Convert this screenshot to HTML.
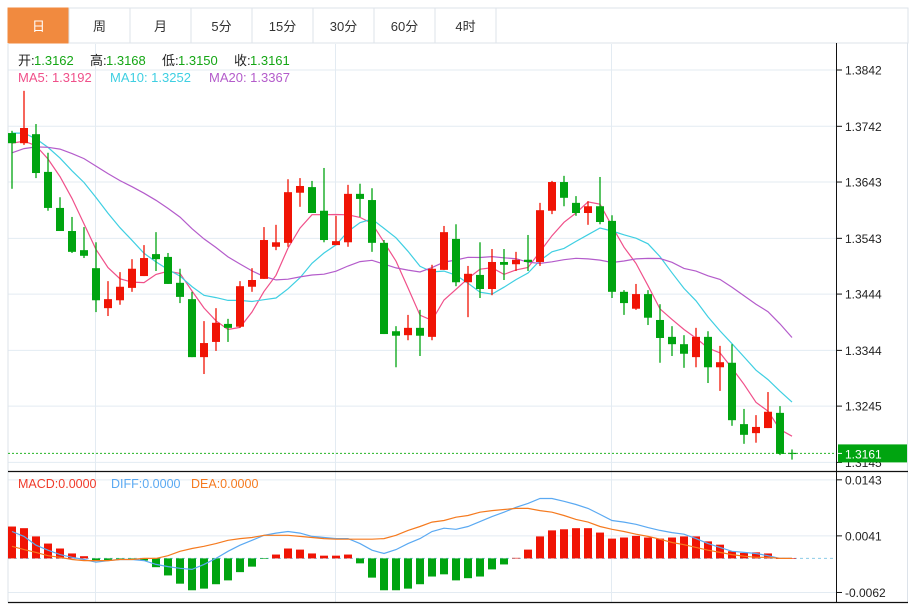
<!DOCTYPE html>
<html><head><meta charset="utf-8"><style>
html,body{margin:0;padding:0;background:#fff;width:917px;height:604px;overflow:hidden}
svg{display:block;font-family:"Liberation Sans","Noto Sans CJK SC",sans-serif}
</style></head><body>
<svg id="chart" width="917" height="604" viewBox="0 0 917 604">
<g id="tabs"></g>
<g id="grid"></g>
<g id="ma"></g>
<g id="candles"></g>
<g id="macd"></g>
<g id="axis"></g>
<g id="legend"></g>
</svg>
<script>
const tabLabels=['日','周','月','5分','15分','30分','60分','4时'];
const priceTicks=[1.3842,1.3742,1.3643,1.3543,1.3444,1.3344,1.3245,1.3145];
const macdTicks=[0.0143,0.0041,-0.0062];
const opens=[1.3730,1.3712,1.3728,1.3661,1.3597,1.3556,1.3522,1.3490,1.3419,1.3433,1.3455,1.3476,1.3515,1.3510,1.3464,1.3435,1.3332,1.3359,1.3391,1.3386,1.3457,1.3471,1.3528,1.3535,1.3624,1.3634,1.3592,1.3531,1.3536,1.3622,1.3611,1.3535,1.3378,1.3371,1.3384,1.3368,1.3487,1.3542,1.3465,1.3478,1.3453,1.3501,1.3497,1.3505,1.3501,1.3592,1.3643,1.3606,1.3588,1.3600,1.3574,1.3448,1.3418,1.3444,1.3398,1.3368,1.3355,1.3332,1.3368,1.3314,1.3322,1.3213,1.3197,1.3206,1.3233,1.3162];
const highs=[1.3734,1.3805,1.3746,1.3695,1.3616,1.3581,1.3563,1.3536,1.3467,1.3483,1.3506,1.3531,1.3554,1.3517,1.3489,1.3448,1.3396,1.3419,1.3400,1.3467,1.3490,1.3563,1.3567,1.3648,1.3650,1.3645,1.3668,1.3583,1.3638,1.3640,1.3632,1.3540,1.3387,1.3407,1.3416,1.3496,1.3565,1.3568,1.3494,1.3536,1.3524,1.3524,1.3519,1.3549,1.3606,1.3645,1.3654,1.3618,1.3609,1.3652,1.3584,1.3451,1.3462,1.3451,1.3426,1.3387,1.3371,1.3384,1.3378,1.3352,1.3355,1.3240,1.3229,1.3270,1.3245,1.3168];
const lows=[1.3631,1.3709,1.3650,1.3592,1.3556,1.3517,1.3508,1.3412,1.3405,1.3425,1.3448,1.3476,1.3485,1.3462,1.3428,1.3332,1.3302,1.3343,1.3359,1.3384,1.3448,1.3471,1.3522,1.3528,1.3599,1.3588,1.3536,1.3531,1.3528,1.3581,1.3519,1.3373,1.3314,1.3362,1.3334,1.3362,1.3487,1.3458,1.3403,1.3437,1.3442,1.3469,1.3485,1.3485,1.3494,1.3586,1.3600,1.3583,1.3567,1.3568,1.3437,1.3407,1.3416,1.3389,1.3322,1.3334,1.3313,1.3314,1.3286,1.3272,1.3210,1.3178,1.3180,1.3206,1.3158,1.3150];
const closes=[1.3712,1.3739,1.3659,1.3597,1.3556,1.3519,1.3512,1.3433,1.3435,1.3457,1.3489,1.3508,1.3506,1.3462,1.3439,1.3332,1.3357,1.3393,1.3384,1.3458,1.3469,1.3540,1.3536,1.3625,1.3636,1.3588,1.3540,1.3538,1.3622,1.3613,1.3535,1.3373,1.3370,1.3384,1.3370,1.3489,1.3554,1.3465,1.3480,1.3453,1.3501,1.3496,1.3505,1.3501,1.3593,1.3643,1.3615,1.3588,1.3600,1.3572,1.3448,1.3428,1.3444,1.3402,1.3366,1.3355,1.3338,1.3368,1.3314,1.3323,1.3220,1.3194,1.3208,1.3235,1.3160,1.3161];
const priorCloses=[1.3590,1.3600,1.3610,1.3620,1.3680,1.3690,1.3700,1.3700,1.3705,1.3705,1.3740,1.3760,1.3750,1.3745,1.3745,1.3720,1.3700,1.3715,1.3713];
const macdHist=[.0058,.0055,.0040,.0027,.0018,.0009,.0004,-.0004,-.0004,-.0002,-.0002,-.0004,-.0016,-.0031,-.0046,-.0058,-.0055,-.0047,-.0040,-.0025,-.0015,-.0001,.0007,.0018,.0016,.0009,.0005,.0005,.0007,-.0009,-.0035,-.0058,-.0058,-.0055,-.0047,-.0033,-.0029,-.0040,-.0036,-.0033,-.0020,-.0011,.0001,.0016,.0040,.0051,.0053,.0055,.0055,.0047,.0036,.0038,.0041,.0038,.0036,.0038,.0040,.0040,.0031,.0025,.0013,.0010,.0011,.0009,0,0];
const diffVals=[.0049,.0040,.0024,.0015,.0007,.0002,-.0002,-.0007,-.0004,-.0002,-.0002,-.0004,-.0011,-.0015,-.0018,-.0020,-.0011,0,.0013,.0024,.0033,.0042,.0046,.0049,.0046,.0040,.0038,.0036,.0036,.0027,.0015,.0009,.0016,.0027,.0036,.0049,.0055,.0053,.0058,.0067,.0076,.0084,.0093,.0100,.0109,.0109,.0104,.0098,.0091,.0080,.0069,.0066,.0062,.0056,.0051,.0047,.0044,.0036,.0027,.0020,.0013,.0011,.0009,.0005,0,0];
const deaVals=[.0022,.0016,.0011,.0005,.0002,-.0002,-.0004,-.0004,-.0004,-.0002,-.0002,0,0,.0005,.0013,.0018,.0022,.0027,.0033,.0036,.0038,.0042,.0042,.0042,.0040,.0038,.0036,.0035,.0035,.0035,.0035,.0036,.0042,.0051,.0058,.0066,.0069,.0075,.0078,.0084,.0087,.0089,.0091,.0091,.0087,.0084,.0078,.0071,.0066,.0058,.0053,.0049,.0044,.0040,.0035,.0029,.0025,.0020,.0015,.0011,.0007,.0004,.0002,.0002,0,0];

const NS='http://www.w3.org/2000/svg';
const UP='#f01405',DN='#00a410';
function mk(tag,attrs,parent){const e=document.createElementNS(NS,tag);for(const k in attrs)e.setAttribute(k,attrs[k]);parent.appendChild(e);return e;}
const xOf=i=>12+i*12;
const yP=p=>70+(1.3842-p)*5630;
const yM=v=>558.4-v*5495;
const L=8,R=836;

const tabs=document.getElementById('tabs');
mk('rect',{x:8,y:8,width:900,height:35,fill:'#fff',stroke:'#dde3ea'},tabs);
tabLabels.forEach((t,i)=>{
  const g=mk('g',{},tabs);
  
  
  const x=8+i*61;
  mk('rect',{x:x,y:8,width:61,height:35,fill:i===0?'#f18a3f':'#fff',stroke:i===0?'#f18a3f':'#dde3ea'},g);
  const tx=mk('text',{x:x+30.5,y:31,'text-anchor':'middle','font-size':13,fill:i===0?'#fff':'#333'},g);
  tx.textContent=t;
});

const grid=document.getElementById('grid');
priceTicks.forEach(p=>mk('line',{x1:L,x2:R,y1:yP(p),y2:yP(p),stroke:'#e3ebf2'},grid));
macdTicks.forEach(v=>mk('line',{x1:L,x2:R,y1:yM(v),y2:yM(v),stroke:'#e3ebf2'},grid));
[95.5,335.5,611.5].forEach(x=>{mk('line',{x1:x,x2:x,y1:44,y2:471,stroke:'#e3ebf2'},grid);mk('line',{x1:x,x2:x,y1:472,y2:602,stroke:'#e3ebf2'},grid);});
mk('line',{x1:L,x2:L,y1:43,y2:603,stroke:'#dde3ea'},grid);
mk('line',{x1:907.5,x2:907.5,y1:43,y2:603,stroke:'#dde3ea'},grid);
mk('line',{x1:L,x2:908,y1:471.5,y2:471.5,stroke:'#111','stroke-width':1.2},grid);
mk('line',{x1:L,x2:908,y1:602.5,y2:602.5,stroke:'#111','stroke-width':1.2},grid);
mk('line',{x1:836.5,x2:836.5,y1:43,y2:603,stroke:'#111'},grid);

const allC=priorCloses.concat(closes),off=priorCloses.length;
function ma(n){return closes.map((c,i)=>{let s=0,k=0;for(let j=off+i;j>off+i-n&&j>=0;j--){s+=allC[j];k++;}return s/k;});}
const maDefs=[[5,'#f0508a','ma5-line'],[10,'#3fcfe2','ma10-line'],[20,'#b45ccb','ma20-line']];
const maG=document.getElementById('ma');
maDefs.forEach(([n,col,name])=>{
  const v=ma(n);
  const p=mk('polyline',{points:v.map((y,i)=>xOf(i)+','+yP(y).toFixed(1)).join(' '),fill:'none',stroke:col,'stroke-width':1.2},maG);
  
  
});

const cg=document.getElementById('candles');
closes.forEach((c,i)=>{
  const o=opens[i],col=c>o?UP:DN,x=xOf(i);
  const g=mk('g',{},cg);
  
  
  mk('line',{x1:x,x2:x,y1:yP(highs[i]),y2:yP(lows[i]),stroke:col,'stroke-width':1.3},g);
  const t=yP(Math.max(o,c)),b=yP(Math.min(o,c));
  mk('rect',{x:x-4,y:t,width:8,height:Math.max(1.2,b-t),fill:col},g);
});
const last=closes[closes.length-1];
const lp=mk('line',{x1:L,x2:R,y1:yP(last),y2:yP(last),stroke:'#26b526','stroke-dasharray':'2,2'},cg);



const mg=document.getElementById('macd');
const z=mk('line',{x1:L,x2:R,y1:yM(0),y2:yM(0),stroke:'#8ccbe8','stroke-dasharray':'3,3'},mg);


macdHist.forEach((v,i)=>{
  const y0=yM(0),y1=yM(v);
  const r=mk('rect',{x:xOf(i)-4,y:Math.min(y0,y1),width:8,height:Math.max(0.6,Math.abs(y1-y0)),fill:v>=0?UP:DN},mg);
  
  
});
[[diffVals,'#5aa9f2','diff-line'],[deaVals,'#f57a1f','dea-line']].forEach(([arr,col,name])=>{
  const p=mk('polyline',{points:arr.map((v,i)=>xOf(i)+','+yM(v).toFixed(1)).join(' '),fill:'none',stroke:col,'stroke-width':1.2},mg);
  
  
});

const ax=document.getElementById('axis');
priceTicks.forEach(p=>{
  mk('line',{x1:837,x2:842,y1:yP(p),y2:yP(p),stroke:'#111'},ax);
  const t=mk('text',{x:845,y:yP(p)+4.5,'font-size':12,fill:'#222'},ax);
  t.textContent=p.toFixed(4);
});
macdTicks.forEach(v=>{
  mk('line',{x1:837,x2:842,y1:yM(v),y2:yM(v),stroke:'#111'},ax);
  const t=mk('text',{x:845,y:yM(v)+4.5,'font-size':12,fill:'#222'},ax);
  t.textContent=v.toFixed(4);
});
const badge=mk('g',{},ax);


mk('rect',{x:838,y:yP(last)-9,width:69,height:18,fill:'#00a410'},badge);
mk('line',{x1:837,x2:842,y1:yP(last),y2:yP(last),stroke:'#fff'},badge);
const bt=mk('text',{x:845,y:yP(last)+5,'font-size':12,fill:'#fff'},badge);
bt.textContent=last.toFixed(4);

const lg=document.getElementById('legend');
function txt(x,y,s,col,name){const t=mk('text',{x:x,y:y,'font-size':13,fill:col},lg);t.textContent=s;return t;}
const ohlc=[['开:',opens],['高:',highs],['低:',lows],['收:',closes]];
let lx=18;
ohlc.forEach(([k,a],i)=>{
  txt(lx,65,k,'#222','ohlc-label');
  txt(lx+16,65,a[a.length-1].toFixed(4),'#14a614','ohlc-value');
  lx+=72;
});
txt(18,82,'MA5: 1.3192','#f0508a','ma5-legend');
txt(110,82,'MA10: 1.3252','#3fcfe2','ma10-legend');
txt(209,82,'MA20: 1.3367','#b45ccb','ma20-legend');
const s=(v)=>v.toFixed(4);
const ml=[['MACD:'+s(macdHist[macdHist.length-1]),'#f03a2a',18,'macd-legend'],['DIFF:'+s(diffVals[diffVals.length-1]),'#5aa9f2',111,'diff-legend'],['DEA:'+s(deaVals[deaVals.length-1]),'#f57a1f',191,'dea-legend']];
ml.forEach(([t,c,x,n])=>{const e=txt(x,488,t,c,n);e.setAttribute('font-size',12.5);});
</script>
</body></html>
